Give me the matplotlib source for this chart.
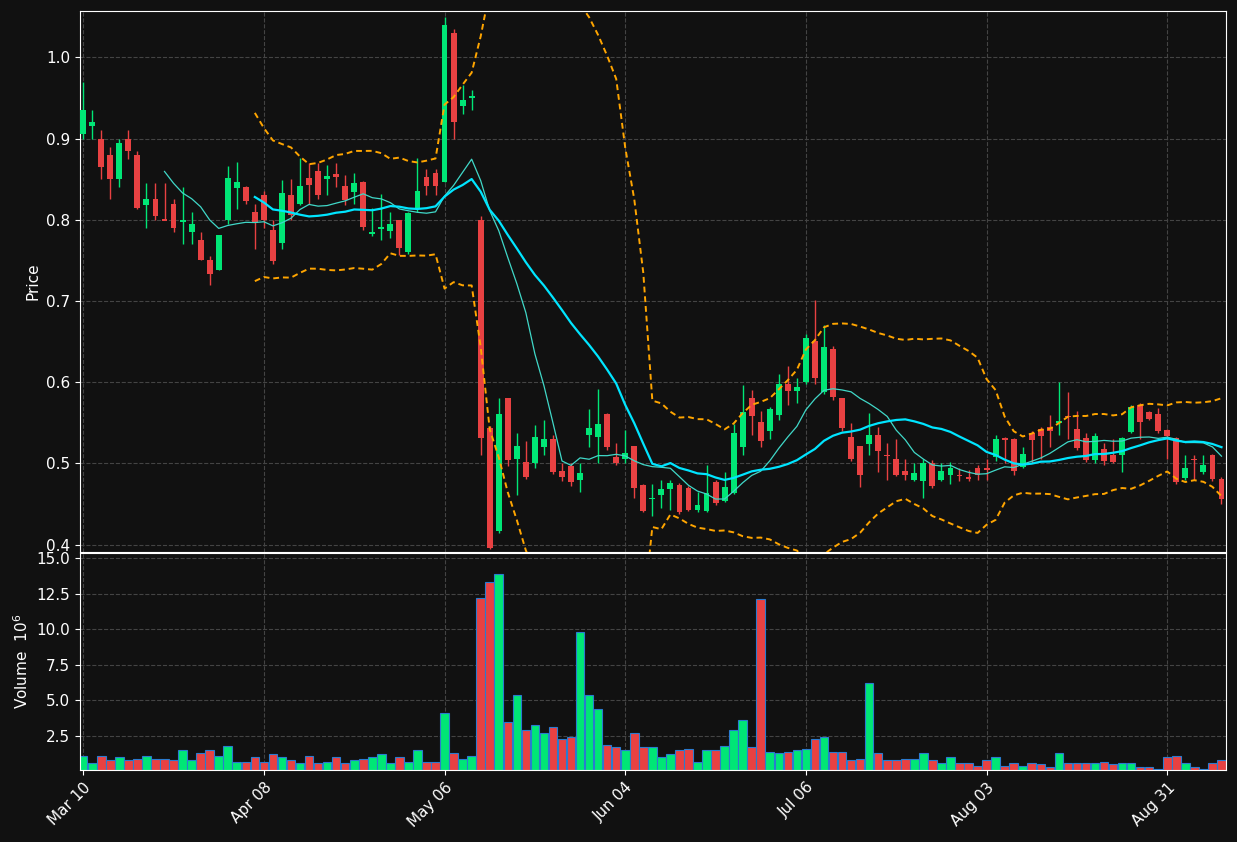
import matplotlib
matplotlib.use("Agg")
import matplotlib.pyplot as plt
import numpy as np
import pandas as pd

opens = [0.905,0.915,0.90,0.88,0.85,0.90,0.88,0.818,0.825,0.801,0.82,0.797,0.785,0.775,0.75,0.738,0.80,0.839,0.84,0.809,
         0.83,0.787,0.771,0.83,0.82,0.851,0.86,0.85,0.856,0.841,0.834,0.847,0.783,0.789,0.786,0.80,0.76,0.814,0.853,0.857,
         0.846,1.03,0.94,0.95,0.80,0.544,0.417,0.58,0.505,0.502,0.50,0.52,0.53,0.491,0.497,0.48,0.535,0.533,0.561,0.508,
         0.506,0.521,0.474,0.456,0.461,0.469,0.474,0.47,0.443,0.442,0.477,0.454,0.464,0.52,0.58,0.551,0.54,0.56,0.598,0.589,
         0.60,0.651,0.588,0.641,0.58,0.533,0.521,0.524,0.535,0.511,0.505,0.491,0.48,0.479,0.50,0.48,0.486,0.486,0.483,0.495,
         0.494,0.508,0.531,0.53,0.496,0.537,0.542,0.545,0.55,0.559,0.542,0.531,0.504,0.518,0.51,0.51,0.539,0.572,0.563,0.561,
         0.541,0.531,0.482,0.506,0.489,0.51,0.481]
closes = [0.935,0.92,0.865,0.85,0.895,0.885,0.815,0.826,0.805,0.799,0.79,0.80,0.795,0.75,0.733,0.781,0.851,0.847,0.823,0.796,
          0.80,0.749,0.833,0.806,0.841,0.843,0.83,0.854,0.853,0.824,0.845,0.791,0.785,0.791,0.795,0.765,0.808,0.835,0.842,0.841,
          1.04,0.921,0.947,0.952,0.531,0.396,0.561,0.504,0.521,0.483,0.533,0.53,0.489,0.483,0.477,0.488,0.544,0.549,0.52,0.50,
          0.513,0.47,0.442,0.458,0.469,0.476,0.44,0.443,0.449,0.464,0.451,0.471,0.537,0.563,0.559,0.528,0.567,0.598,0.589,0.594,
          0.655,0.605,0.643,0.582,0.544,0.505,0.486,0.535,0.515,0.509,0.486,0.486,0.488,0.50,0.472,0.491,0.494,0.484,0.481,0.486,
          0.492,0.53,0.529,0.491,0.512,0.529,0.534,0.54,0.552,0.557,0.519,0.504,0.534,0.503,0.502,0.531,0.57,0.551,0.555,0.54,
          0.534,0.477,0.494,0.504,0.498,0.481,0.456]
highs = [0.97,0.935,0.91,0.89,0.90,0.91,0.885,0.845,0.845,0.845,0.825,0.84,0.81,0.785,0.755,0.781,0.866,0.871,0.842,0.82,
         0.835,0.80,0.849,0.85,0.876,0.87,0.87,0.867,0.87,0.855,0.858,0.848,0.815,0.832,0.81,0.80,0.81,0.876,0.862,0.862,
         1.05,1.035,0.966,0.96,0.805,0.546,0.58,0.58,0.538,0.528,0.547,0.553,0.535,0.50,0.50,0.50,0.567,0.592,0.562,0.525,
         0.541,0.522,0.475,0.475,0.48,0.48,0.476,0.472,0.465,0.498,0.48,0.49,0.548,0.597,0.59,0.565,0.57,0.61,0.62,0.605,
         0.66,0.701,0.67,0.645,0.581,0.55,0.522,0.562,0.545,0.525,0.53,0.505,0.50,0.505,0.504,0.50,0.502,0.494,0.492,0.498,
         0.505,0.535,0.533,0.531,0.52,0.54,0.545,0.56,0.60,0.588,0.565,0.538,0.537,0.525,0.53,0.533,0.572,0.575,0.565,0.568,
         0.542,0.533,0.51,0.51,0.51,0.512,0.483]
lows = [0.90,0.90,0.85,0.825,0.84,0.875,0.813,0.79,0.80,0.80,0.785,0.77,0.77,0.75,0.72,0.738,0.795,0.813,0.82,0.764,
        0.79,0.745,0.764,0.80,0.818,0.82,0.825,0.83,0.84,0.818,0.82,0.787,0.78,0.775,0.777,0.757,0.758,0.81,0.83,0.83,
        0.846,0.90,0.93,0.935,0.51,0.395,0.415,0.497,0.461,0.481,0.494,0.51,0.487,0.478,0.472,0.465,0.52,0.50,0.517,0.498,
        0.50,0.457,0.44,0.435,0.445,0.443,0.438,0.441,0.44,0.44,0.449,0.452,0.462,0.51,0.535,0.52,0.53,0.553,0.572,0.575,
        0.598,0.598,0.586,0.578,0.54,0.503,0.471,0.51,0.49,0.48,0.484,0.48,0.478,0.457,0.47,0.478,0.475,0.478,0.478,0.48,
        0.48,0.503,0.50,0.486,0.494,0.50,0.505,0.52,0.535,0.53,0.517,0.502,0.50,0.498,0.50,0.49,0.537,0.53,0.553,0.538,
        0.505,0.475,0.48,0.48,0.487,0.479,0.45]
volumes = [1.1,0.6,1.1,0.8,1.0,0.8,0.9,1.1,0.9,0.9,0.8,1.5,0.8,1.3,1.5,1.1,1.8,0.7,0.7,1.0,
           0.7,1.2,1.0,0.8,0.6,1.1,0.6,0.7,1.0,0.6,0.8,0.9,1.0,1.2,0.6,1.0,0.7,1.5,0.7,0.7,
           4.1,1.3,0.9,1.1,12.2,13.3,13.9,3.5,5.4,2.9,3.3,2.7,3.1,2.3,2.4,9.8,5.4,4.4,1.9,1.7,
           1.5,2.7,1.7,1.7,1.0,1.2,1.5,1.6,0.7,1.5,1.5,1.8,2.9,3.6,1.7,12.1,1.4,1.3,1.4,1.5,
           1.6,2.3,2.4,1.4,1.4,0.8,0.9,6.2,1.3,0.8,0.8,0.9,0.9,1.3,0.8,0.6,1.0,0.6,0.6,0.4,
           0.8,1.0,0.4,0.6,0.4,0.6,0.5,0.3,1.3,0.6,0.6,0.6,0.6,0.7,0.5,0.6,0.6,0.3,0.3,0.2,
           1.0,1.1,0.6,0.3,0.2,0.6,0.8]
tick_labels = ["Mar 10", "Apr 08", "May 06", "Jun 04", "Jul 06", "Aug 03", "Aug 31"]

BG = "#111111"
UP, DN = "#00e676", "#e84142"
df = pd.DataFrame({"o": opens, "h": highs, "l": lows, "c": closes, "v": volumes})
x = np.arange(len(df))
ma10 = df.c.rolling(10).mean()
ma20 = df.c.rolling(20).mean()
sd = df.c.rolling(20).std(ddof=0)

fig = plt.figure(figsize=(12.37, 8.42), dpi=100, facecolor=BG)
ax = fig.add_axes([0.0647, 0.3444, 0.9264, 0.6425], facecolor=BG)
axv = fig.add_axes([0.0647, 0.0855, 0.9264, 0.2577], facecolor=BG, sharex=ax)

cols = [UP if c >= o else DN for o, c in zip(df.o, df.c)]
ax.vlines(x, df.l, df.h, colors=cols, linewidth=1, zorder=2)
ax.bar(x, (df.c - df.o).abs().clip(lower=0.002), bottom=np.minimum(df.o, df.c), width=0.65, color=cols, zorder=3)
ax.plot(x, ma10, color="#40d8c8", lw=0.9, zorder=4)
ax.plot(x, ma20, color="#00e5ff", lw=1.6, zorder=4)
ax.plot(x, ma20 + 2 * sd, color="#ffa500", lw=1.4, ls=(0, (3, 2)), zorder=4)
ax.plot(x, ma20 - 2 * sd, color="#ffa500", lw=1.4, ls=(0, (3, 2)), zorder=4)
ax.set_ylim(0.391, 1.057)
ax.set_ylabel("Price", color="white", fontsize=11)

axv.bar(x, df.v, width=0.95, color=cols, edgecolor="#2a7bd0", linewidth=0.8)
axv.set_ylim(0.11, 15.35)
axv.set_ylabel("Volume  $10^6$", color="white", fontsize=11)
axv.set_xlim(-0.35, len(df) - 0.5)
axv.set_xticks(np.arange(0, len(df), 20))
axv.set_xticklabels(tick_labels, rotation=45, ha="right", rotation_mode="anchor")
plt.setp(ax.get_xticklabels(), visible=False)

for a in (ax, axv):
    a.grid(True, color="#444444", ls="--", lw=0.8)
    a.set_axisbelow(True)
    a.tick_params(colors="white", labelsize=11)
    for s in a.spines.values():
        s.set_color("white")

fig.savefig("out.png", dpi=100, facecolor=BG)
